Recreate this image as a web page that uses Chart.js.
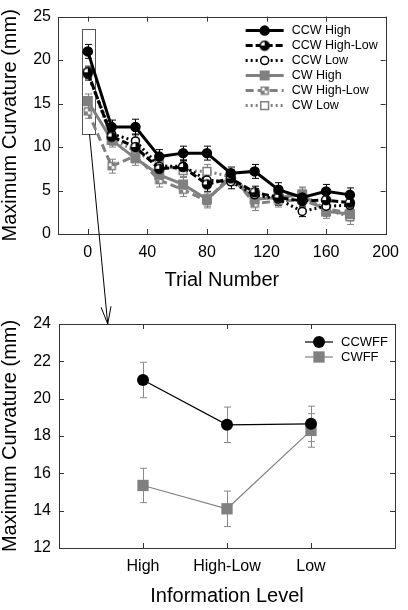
<!DOCTYPE html>
<html>
<head>
<meta charset="utf-8">
<script src="https://cdn.jsdelivr.net/npm/chart.js@4.4.1/dist/chart.umd.min.js"></script>
<style>
body { margin: 0; background: #fff; }
#wrap { position: relative; width: 408px; height: 610px; }
#grafTop { position: absolute; left: 0; top: 0; }
#grafBottom { position: absolute; left: 0; top: 300px; }
#overlay { position: absolute; left: 0; top: 0; pointer-events: none; }
</style>
</head>
<body>
<div id="wrap">
  <canvas id="grafTop" width="408" height="300"></canvas>
  <canvas id="grafBottom" width="408" height="310"></canvas>
  <canvas id="overlay" width="408" height="610"></canvas>
</div>
<script>
// ---------- datos grafica de arriba ----------
const trials = [0, 16, 32, 48, 64, 80, 96, 112, 128, 144, 160, 176];
const xTicksTop = [0, 40, 80, 120, 160, 200];
const yTicksTop = [0, 5, 10, 15, 20, 25];

const seriesNames = ['CCW High', 'CCW High-Low', 'CCW Low', 'CW High', 'CW High-Low', 'CW Low'];
const ccwHigh    = [21.0, 12.3, 12.3, 8.9, 9.3, 9.3, 7.0, 7.2, 5.1, 4.2, 4.9, 4.5];
const ccwHighLow = [18.6, 11.2, 10.0, 7.5, 7.7, 5.7, 6.4, 4.8, 4.2, 3.8, 3.9, 3.6];
const ccwLow     = [18.4, 11.5, 10.7, 7.8, 7.8, 6.2, 6.0, 4.5, 4.0, 2.6, 3.2, 3.3];
const cwHigh     = [15.3, 10.8, 8.7, 6.8, 5.7, 4.0, 6.4, 4.0, 4.2, 4.5, 2.6, 2.3];
const cwHighLow  = [14.1, 7.8, 9.0, 6.2, 5.1, 3.8, 6.8, 3.5, 3.8, 3.9, 2.9, 2.4];
const cwLow      = [18.5, 11.0, 9.5, 8.0, 7.3, 7.2, 6.6, 4.3, 4.4, 4.6, 2.8, 2.0];

const errCcwHigh    = [0.8, 0.8, 0.9, 0.8, 0.8, 0.8, 0.7, 0.8, 0.8, 0.7, 0.8, 0.8];
const errCcwHighLow = [0.7, 0.8, 0.8, 0.7, 0.7, 0.8, 0.8, 0.7, 0.7, 0.7, 0.7, 0.6];
const errCcwLow     = [0.7, 0.8, 0.8, 0.7, 0.7, 0.8, 0.8, 0.7, 0.7, 0.6, 0.7, 0.6];
const errCwHigh     = [0.8, 0.8, 0.8, 0.7, 0.8, 0.8, 0.8, 0.8, 0.7, 0.8, 0.8, 0.8];
const errCwHighLow  = [0.8, 0.8, 0.8, 0.8, 0.8, 0.8, 0.8, 0.8, 0.7, 0.8, 0.8, 0.8];
const errCwLow      = [0.7, 0.8, 0.8, 0.7, 0.7, 0.8, 0.8, 0.8, 0.7, 0.8, 0.8, 0.9];

// ---------- datos grafica de abajo ----------
const infoLevels = ['High', 'High-Low', 'Low'];
const yTicksBottom = [12, 14, 16, 18, 20, 22, 24];
const ffNames = ['CCWFF', 'CWFF'];
const ccwff = [21.0, 18.6, 18.65];
const cwff  = [15.35, 14.1, 18.3];
const errCcwff = [0.95, 0.95, 0.95];
const errCwff  = [0.92, 0.95, 0.9];

// recuadro que marca el primer bloque (coordenadas de datos)
const zoomBox = { xMin: -4, xMax: 5, yMin: 11.5, yMax: 23.6 };

const FONT = "'Liberation Sans', Arial, sans-serif";
const GREY = '#808080';
Chart.defaults.color = '#000';
Chart.defaults.font.family = FONT;

// marcadores medio rellenos
function halfCircle(color) {
    const c = document.createElement('canvas');
    c.width = 12; c.height = 12;
    const g = c.getContext('2d');
    g.beginPath(); g.arc(6, 6, 4.5, 0, Math.PI * 2);
    g.fillStyle = '#fff'; g.fill();
    g.beginPath(); g.moveTo(6, 6); g.arc(6, 6, 4.5, -Math.PI / 2, Math.PI / 2); g.closePath();
    g.fillStyle = color; g.fill();
    g.beginPath(); g.moveTo(6, 6); g.arc(6, 6, 4.5, Math.PI / 2, Math.PI); g.closePath();
    g.fill();
    g.beginPath(); g.arc(6, 6, 4.5, 0, Math.PI * 2);
    g.lineWidth = 1.5; g.strokeStyle = color; g.stroke();
    return c;
}
function halfSquare(color) {
    const c = document.createElement('canvas');
    c.width = 10; c.height = 10;
    const g = c.getContext('2d');
    g.fillStyle = '#fff'; g.fillRect(1, 1, 8, 8);
    g.fillStyle = color; g.fillRect(5, 1, 4, 4); g.fillRect(1, 5, 4, 4);
    g.lineWidth = 1.5; g.strokeStyle = color; g.strokeRect(1.5, 1.5, 7, 7);
    return c;
}

function serie(label, values, errs, color, dash, pointStyle, fill, radius) {
    return {
        label: label,
        data: trials.map((t, i) => ({ x: t, y: values[i] })),
        errs: errs,
        borderColor: color,
        borderWidth: 3,
        borderDash: dash,
        pointStyle: pointStyle,
        pointRadius: radius,
        pointBackgroundColor: fill,
        pointBorderColor: color,
        pointBorderWidth: 1.5,
        tension: 0
    };
}

// barras de error
const errorBars = {
    id: 'errorBars',
    beforeDatasetsDraw(chart, args, opts) {
        const ctx = chart.ctx;
        const xs = chart.scales.x, ys = chart.scales.y;
        chart.data.datasets.forEach(ds => {
            ctx.save();
            ctx.strokeStyle = ds.errColor || ds.borderColor;
            ctx.lineWidth = 1;
            ds.data.forEach((p, i) => {
                const e = ds.errs[i];
                const x = Math.round(xs.getPixelForValue(p.x)) + 0.5;
                const y1 = ys.getPixelForValue(p.y - e);
                const y2 = ys.getPixelForValue(p.y + e);
                ctx.beginPath();
                ctx.moveTo(x, y1); ctx.lineTo(x, y2);
                ctx.moveTo(x - 3.5, y1); ctx.lineTo(x + 3.5, y1);
                ctx.moveTo(x - 3.5, y2); ctx.lineTo(x + 3.5, y2);
                ctx.stroke();
            });
            ctx.restore();
        });
    }
};

// marco completo y marcas de graduacion hacia dentro
const frame = {
    id: 'frame',
    afterDraw(chart) {
        const ctx = chart.ctx;
        const a = chart.chartArea;
        ctx.save();
        ctx.strokeStyle = '#333';
        ctx.lineWidth = 1;
        ctx.strokeRect(Math.round(a.left) + 0.5, Math.round(a.top) + 0.5,
            Math.round(a.right - a.left), Math.round(a.bottom - a.top));
        ctx.beginPath();
        chart.scales.x.ticks.forEach(t => {
            const x = Math.round(chart.scales.x.getPixelForValue(t.value)) + 0.5;
            ctx.moveTo(x, a.bottom); ctx.lineTo(x, a.bottom - 5);
            ctx.moveTo(x, a.top); ctx.lineTo(x, a.top + 5);
        });
        chart.scales.y.ticks.forEach(t => {
            const y = Math.round(chart.scales.y.getPixelForValue(t.value)) + 0.5;
            ctx.moveTo(a.left, y); ctx.lineTo(a.left + 5, y);
            ctx.moveTo(a.right, y); ctx.lineTo(a.right - 5, y);
        });
        ctx.stroke();
        ctx.restore();
    }
};

// leyenda dibujada a mano (linea + marcador)
const customLegend = {
    id: 'customLegend',
    afterDraw(chart, args, o) {
        const ctx = chart.ctx;
        const a = chart.chartArea;
        chart.data.datasets.forEach((ds, i) => {
            const y = a.top + o.top + i * o.step;
            ctx.save();
            ctx.strokeStyle = ds.borderColor;
            ctx.lineWidth = ds.borderWidth;
            ctx.setLineDash(ds.borderDash || []);
            ctx.beginPath();
            ctx.moveTo(a.right - o.x0, y); ctx.lineTo(a.right - o.x1, y);
            ctx.stroke();
            ctx.setLineDash([]);
            ctx.fillStyle = ds.pointBackgroundColor;
            ctx.strokeStyle = ds.pointBorderColor;
            ctx.lineWidth = ds.pointBorderWidth;
            Chart.helpers.drawPoint(ctx, { pointStyle: ds.pointStyle, radius: ds.pointRadius, rotation: 0, borderWidth: ds.pointBorderWidth },
                a.right - (o.x0 + o.x1) / 2, y);
            ctx.fillStyle = '#000';
            ctx.font = o.font + 'px ' + FONT;
            ctx.textBaseline = 'middle';
            ctx.textAlign = 'left';
            ctx.fillText(ds.label, a.right - o.tx, y);
            ctx.restore();
        });
    }
};

const zoomRect = {
    id: 'zoomRect',
    beforeDatasetsDraw(chart) {
        const ctx = chart.ctx;
        const xs = chart.scales.x, ys = chart.scales.y;
        const l = Math.round(xs.getPixelForValue(zoomBox.xMin)) + 0.5;
        const r = Math.round(xs.getPixelForValue(zoomBox.xMax)) + 0.5;
        const t = Math.round(ys.getPixelForValue(zoomBox.yMax)) + 0.5;
        const b = Math.round(ys.getPixelForValue(zoomBox.yMin)) + 0.5;
        ctx.save();
        ctx.strokeStyle = '#555';
        ctx.lineWidth = 1;
        ctx.strokeRect(l, t, r - l, b - t);
        ctx.restore();
    }
};

// ---------- grafica de arriba ----------
const chartTop = new Chart(document.getElementById('grafTop').getContext('2d'), {
    type: 'line',
    data: {
        datasets: [
            serie(seriesNames[0], ccwHigh, errCcwHigh, '#000', [], 'circle', '#000', 4.5),
            serie(seriesNames[1], ccwHighLow, errCcwHighLow, '#000', [7, 3], halfCircle('#000'), '#000', 4.5),
            serie(seriesNames[2], ccwLow, errCcwLow, '#000', [2, 3], 'circle', '#fff', 4),
            serie(seriesNames[3], cwHigh, errCwHigh, GREY, [], 'rect', GREY, 6),
            serie(seriesNames[4], cwHighLow, errCwHighLow, GREY, [8, 4], halfSquare(GREY), GREY, 5),
            serie(seriesNames[5], cwLow, errCwLow, GREY, [2, 3], 'rect', '#fff', 5.5)
        ]
    },
    options: {
        responsive: false,
        animation: false,
        layout: { padding: { left: 0, right: 14, top: 11, bottom: 0 } },
        plugins: {
            legend: { display: false },
            tooltip: { enabled: false },
            customLegend: { top: 14, step: 15, x0: 140, x1: 102, tx: 94, font: 12.5 }
        },
        scales: {
            x: {
                type: 'linear', min: -20, max: 200,
                afterBuildTicks: s => { s.ticks = xTicksTop.map(v => ({ value: v })); },
                afterFit: s => { s.height = 66; },
                grid: { display: false, drawTicks: false },
                border: { display: false },
                ticks: { font: { size: 16 }, padding: 9, maxRotation: 0 },
                title: { display: true, text: 'Trial Number', font: { size: 20, lineHeight: 1 }, padding: { top: 0, bottom: 10 } }
            },
            y: {
                min: 0, max: 25,
                afterBuildTicks: s => { s.ticks = yTicksTop.map(v => ({ value: v })); },
                afterFit: s => { s.width = 58; },
                grid: { display: false, drawTicks: false },
                border: { display: false },
                ticks: { font: { size: 16 }, padding: 7 },
                title: { display: true, text: 'Maximum Curvature (mm)', font: { size: 20, lineHeight: 1 }, padding: 0 }
            }
        }
    },
    plugins: [zoomRect, errorBars, frame, customLegend]
});

// ---------- grafica de abajo ----------
function serieFF(label, values, errs, color, pointStyle, radius) {
    return {
        label: label,
        data: values.map((v, i) => ({ x: i + 1, y: v })),
        errs: errs,
        errColor: '#888',
        borderColor: color,
        borderWidth: 1.2,
        pointStyle: pointStyle,
        pointRadius: radius,
        pointBackgroundColor: color,
        pointBorderColor: color,
        pointBorderWidth: 0,
        tension: 0
    };
}

const chartBottom = new Chart(document.getElementById('grafBottom').getContext('2d'), {
    type: 'line',
    data: {
        datasets: [
            serieFF(ffNames[0], ccwff, errCcwff, '#000', 'circle', 6),
            serieFF(ffNames[1], cwff, errCwff, GREY, 'rect', 8)
        ]
    },
    options: {
        responsive: false,
        animation: false,
        layout: { padding: { left: 0, right: 13, top: 24, bottom: 0 } },
        plugins: {
            legend: { display: false },
            tooltip: { enabled: false },
            customLegend: { top: 18, step: 15, x0: 90, x1: 62, tx: 54, font: 13 }
        },
        scales: {
            x: {
                type: 'linear', min: 0, max: 4,
                afterBuildTicks: s => { s.ticks = infoLevels.map((c, i) => ({ value: i + 1 })); },
                afterFit: s => { s.height = 62; },
                grid: { display: false, drawTicks: false },
                border: { display: false },
                ticks: { font: { size: 16 }, padding: 9, maxRotation: 0, callback: v => infoLevels[v - 1] },
                title: { display: true, text: 'Information Level', font: { size: 20, lineHeight: 1 }, padding: { top: 0, bottom: 4 } }
            },
            y: {
                min: 12, max: 24,
                afterBuildTicks: s => { s.ticks = yTicksBottom.map(v => ({ value: v })); },
                afterFit: s => { s.width = 59; },
                grid: { display: false, drawTicks: false },
                border: { display: false },
                ticks: { font: { size: 16 }, padding: 8 },
                title: { display: true, text: 'Maximum Curvature (mm)', font: { size: 20, lineHeight: 1 }, padding: 0 }
            }
        }
    },
    plugins: [errorBars, frame, customLegend]
});

// ---------- flecha entre las dos graficas ----------
(function dibujarFlecha() {
    const ctx = document.getElementById('overlay').getContext('2d');
    const top = document.getElementById('grafTop').offsetTop;
    const bottomOff = document.getElementById('grafBottom').offsetTop;
    const xs = chartTop.scales.x, ys = chartTop.scales.y;
    const x0 = xs.getPixelForValue((zoomBox.xMin + zoomBox.xMax) / 2) + 1;
    const y0 = ys.getPixelForValue(zoomBox.yMin) + top;
    const x1 = chartBottom.scales.x.getPixelForValue(0.58);
    const y1 = chartBottom.chartArea.top + bottomOff;
    const ang = Math.atan2(y1 - y0, x1 - x0);
    ctx.strokeStyle = '#000';
    ctx.lineWidth = 1;
    ctx.beginPath();
    ctx.moveTo(x0, y0); ctx.lineTo(x1, y1);
    ctx.moveTo(x1 - 18 * Math.cos(ang - 0.28), y1 - 18 * Math.sin(ang - 0.28));
    ctx.lineTo(x1, y1);
    ctx.lineTo(x1 - 18 * Math.cos(ang + 0.28), y1 - 18 * Math.sin(ang + 0.28));
    ctx.stroke();
})();
</script>
</body>
</html>
